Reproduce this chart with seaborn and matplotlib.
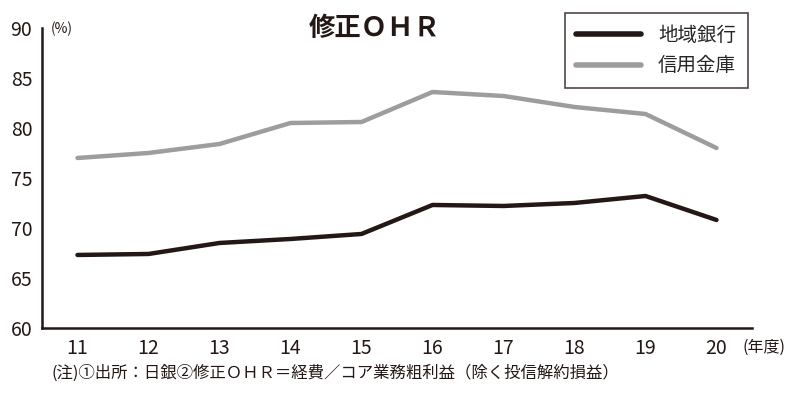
import pandas as pd
import matplotlib
matplotlib.use('Agg')
import matplotlib.pyplot as plt
import seaborn as sns

# ==========================================
# データ
# ==========================================
years = [11, 12, 13, 14, 15, 16, 17, 18, 19, 20]
regional_banks = [67.3, 67.4, 68.5, 68.9, 69.4, 72.3, 72.2, 72.5, 73.2, 70.8]
shinkin_banks = [77.0, 77.5, 78.4, 80.5, 80.6, 83.6, 83.2, 82.1, 81.4, 78.0]
series_names = ['地域銀行', '信用金庫']
y_ticks = [60, 65, 70, 75, 80, 85, 90]

TITLE = '修正ＯＨＲ'
NOTE = '(注)①出所：日銀②修正ＯＨＲ＝経費／コア業務粗利益（除く投信解約損益）'

# ==========================================
# 描画設定
# ==========================================
sns.set_style('white')
plt.rcParams['font.family'] = ['Noto Sans CJK JP', 'DejaVu Sans']

df = pd.DataFrame({
    'year': years * 2,
    'ohr': regional_banks + shinkin_banks,
    'kind': [series_names[0]] * len(years) + [series_names[1]] * len(years),
})

fig = plt.figure(figsize=(8, 4.12), dpi=100)
ax = fig.add_axes([0.0525, 0.204, 0.8875, 0.728])

palette = {series_names[0]: '#231815', series_names[1]: '#9d9d9d'}
sns.lineplot(data=df, x='year', y='ohr', hue='kind', palette=palette,
             linewidth=3.2, ax=ax, legend=True)

ax.set_xlim(10.5, 20.5)
ax.set_ylim(60, 90)
ax.set_xticks(years)
ax.set_xticklabels([str(y) for y in years])
ax.set_yticks(y_ticks)
ax.set_xlabel('')
ax.set_ylabel('')
ax.tick_params(axis='both', length=0, labelsize=14, colors='#231815')
ax.tick_params(axis='x', pad=7)
ax.tick_params(axis='y', pad=7)

for side in ['top', 'right']:
    ax.spines[side].set_visible(False)
for side in ['left', 'bottom']:
    ax.spines[side].set_color('#231815')
    ax.spines[side].set_linewidth(1.8)

leg = ax.legend(loc='upper right', bbox_to_anchor=(0.994, 1.05), fontsize=14,
                frameon=True, fancybox=False, edgecolor='#231815',
                handlelength=3.3, handletextpad=0.9, borderpad=0.6,
                labelspacing=0.5, borderaxespad=0)
leg.get_frame().set_linewidth(1.2)
for line in leg.get_lines():
    line.set_linewidth(4)

# テキスト
fig.text(0.468, 0.932, TITLE, fontsize=19, fontweight='bold', ha='center', va='center',
         color='#231815')
fig.text(0.064, 0.93, '(%)', fontsize=10, ha='left', va='center', color='#231815')
fig.text(0.928, 0.157, '(年度)', fontsize=11.5, ha='left', va='center', color='#231815')
fig.text(0.064, 0.095, NOTE, fontsize=11.8, ha='left', va='center', color='#231815')

plt.savefig('out.png', dpi=100)
